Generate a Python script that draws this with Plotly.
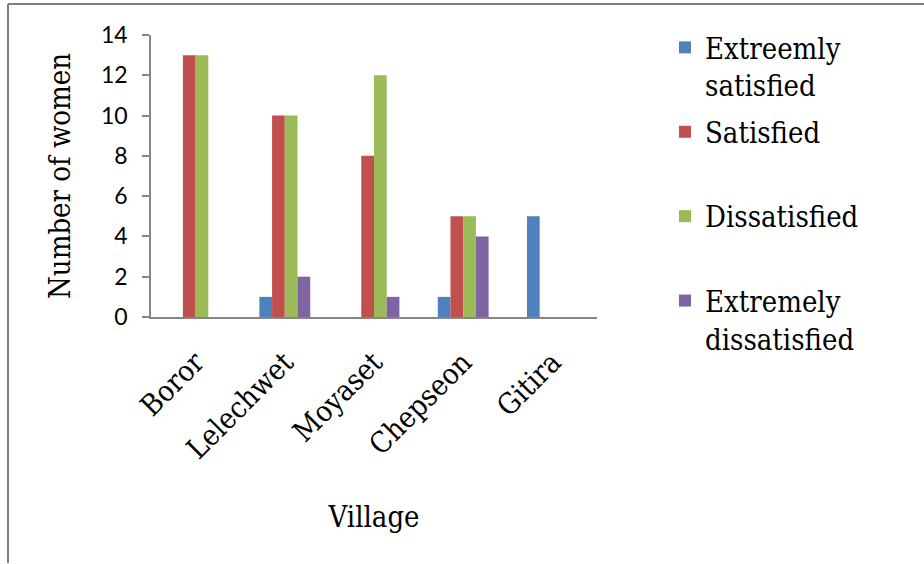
import plotly.graph_objects as go

villages = ["Boror", "Lelechwet", "Moyaset", "Chepseon", "Gitira"]
extremely_satisfied = [0, 1, 0, 1, 5]
satisfied = [13, 10, 8, 5, 0]
dissatisfied = [13, 10, 12, 5, 0]
extremely_dissatisfied = [0, 2, 1, 4, 0]

series_names = ["Extreemly<br>satisfied", "Satisfied<br> ", "Dissatisfied<br> ", "Extremely<br>dissatisfied"]
series_values = [extremely_satisfied, satisfied, dissatisfied, extremely_dissatisfied]
colors = ["#4F81BD", "#C0504D", "#9BBB59", "#8064A2"]

W, H = 924, 564
L, R, T, B = 151, 327, 35, 246.5
pw, ph = W - L - R, H - T - B

serif = "DejaVu Serif Condensed, DejaVu Serif"
fs = 29

fig = go.Figure()
for i, (name, vals, col) in enumerate(zip(series_names, series_values, colors)):
    fig.add_trace(go.Bar(x=villages, y=vals, name=name, marker_color=col,
                         marker_line_width=0, legendgroup=str(i)))

def px_x(p):
    return (p - L) / pw

def px_y(p):
    return (H - B - p) / ph

axis_col = "#868686"
fig.update_layout(
    template="none",
    width=W, height=H,
    margin=dict(l=L, r=R, t=T, b=B, autoexpand=False),
    paper_bgcolor="white", plot_bgcolor="white",
    barmode="group", bargap=0.43, bargroupgap=0,
    font=dict(family=serif, size=fs, color="black"),
    xaxis=dict(
        showline=True, linecolor=axis_col, linewidth=1.5,
        ticks="", tickangle=-45, showgrid=False, zeroline=False,
        ticklabelstandoff=15,
        tickfont=dict(family=serif, size=fs, color="black"),
        title=dict(text="Village", font=dict(family=serif, size=fs, color="black"), standoff=42),
        automargin=False,
    ),
    yaxis=dict(
        range=[0, 14], dtick=2, showline=True, linecolor=axis_col, linewidth=1.5,
        ticks="outside", ticklen=7, tickcolor=axis_col, tickwidth=1.5,
        showgrid=False, zeroline=False, ticklabelstandoff=10,
        tickfont=dict(family="Lato", size=23, color="black"),
        title=dict(text="Number of women", font=dict(family=serif, size=fs, color="black"), standoff=22),
        automargin=False,
    ),
    legend=dict(
        x=px_x(665), y=px_y(22), xanchor="left", yanchor="top",
        font=dict(family=serif, size=fs, color="black"),
        valign="top", tracegroupgap=6, bgcolor="rgba(0,0,0,0)",
        borderwidth=0, maxheight=600,
    ),
    showlegend=True,
)

# chart area border (top and left)
fig.add_shape(type="line", xref="paper", yref="paper",
              x0=px_x(8), x1=px_x(924), y0=px_y(4), y1=px_y(4),
              line=dict(color="#7F7F7F", width=2))
fig.add_shape(type="line", xref="paper", yref="paper",
              x0=px_x(8), x1=px_x(8), y0=px_y(4), y1=px_y(564),
              line=dict(color="#7F7F7F", width=2))

fig.write_html("out.html")
